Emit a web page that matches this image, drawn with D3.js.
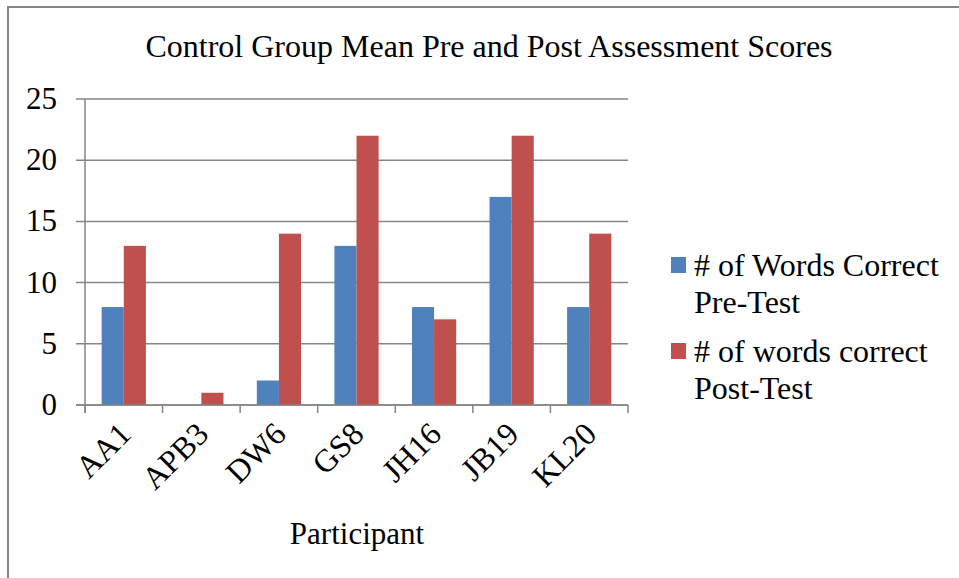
<!DOCTYPE html>
<html><head><meta charset="utf-8">
<script src="https://cdn.jsdelivr.net/npm/d3@7"></script>
<style>body{margin:0;background:#fff}svg{display:block}</style>
</head><body><svg id="c" width="959" height="578" font-family="'Liberation Serif', 'Times New Roman', Times, serif"></svg>
<script>
const categories = ["AA1","APB3","DW6","GS8","JH16","JB19","KL20"];
const preTest = [8,0,2,13,8,17,8];
const postTest = [13,1,14,22,7,22,14];
const yTicks = [0,5,10,15,20,25];
const seriesNames = ["# of Words Correct Pre-Test","# of words correct Post-Test"];
const colors = ["#4F81BD","#C0504D"];

const svg = d3.select("#c");
svg.append("rect").attr("x",8).attr("y",7).attr("width",1000).attr("height",1000)
  .attr("fill","none").attr("stroke","#868686").attr("stroke-width",2);

const L=85, R=628, T=99, B=405;
const x = d3.scaleBand().domain(categories).range([L,R]).paddingInner(0.43).paddingOuter(0.215);
const xb = d3.scaleBand().domain(categories).range([L,R]);
const y = d3.scaleLinear().domain([0,25]).range([B,T]);

svg.append("g").selectAll("line").data(yTicks).join("line")
  .attr("x1",L-9).attr("x2",R).attr("y1",d=>y(d)).attr("y2",d=>y(d))
  .attr("stroke","#868686").attr("stroke-width",1.5);

const sub = d3.scaleBand().domain([0,1]).range([0,x.bandwidth()]);
[preTest,postTest].forEach((vals,si)=>{
  svg.append("g").selectAll("rect").data(vals).join("rect")
    .attr("x",(d,i)=>x(categories[i])+sub(si))
    .attr("width",sub.bandwidth())
    .attr("y",d=>y(d)).attr("height",d=>B-y(d))
    .attr("fill",colors[si]);
});

svg.append("line").attr("x1",L).attr("x2",L).attr("y1",T).attr("y2",B+8)
  .attr("stroke","#868686").attr("stroke-width",1.5);
const tickX = categories.map(c=>xb(c)).concat([R]);
svg.append("g").selectAll("line").data(tickX).join("line")
  .attr("x1",d=>d).attr("x2",d=>d).attr("y1",B).attr("y2",B+8)
  .attr("stroke","#868686").attr("stroke-width",1.5);
svg.append("line").attr("x1",L-9).attr("x2",R).attr("y1",B).attr("y2",B)
  .attr("stroke","#868686").attr("stroke-width",1.5);

svg.append("g").selectAll("text").data(yTicks).join("text")
  .attr("x",57).attr("y",d=>y(d)+10).attr("text-anchor","end")
  .attr("font-size",31).text(d=>d);

svg.append("g").selectAll("text").data(categories).join("text")
  .attr("transform",d=>`translate(${xb(d)+xb.bandwidth()/2+9},${B+31}) rotate(-45)`)
  .attr("text-anchor","end").attr("font-size",32).text(d=>d);

svg.append("text").attr("x",357).attr("y",544).attr("text-anchor","middle")
  .attr("font-size",31).text("Participant");
svg.append("text").attr("x",489).attr("y",57).attr("text-anchor","middle")
  .attr("font-size",32).text("Control Group Mean Pre and Post Assessment Scores");

const lg=[["# of Words Correct","Pre-Test"],["# of words correct","Post-Test"]];
lg.forEach((lines,i)=>{
  const yy=257+i*86;
  svg.append("rect").attr("x",671).attr("y",yy).attr("width",15).attr("height",16).attr("fill",colors[i]);
  lines.forEach((t,j)=>svg.append("text").attr("x",694).attr("y",yy+19+j*37).attr("font-size",32).text(t));
});
</script></body></html>
